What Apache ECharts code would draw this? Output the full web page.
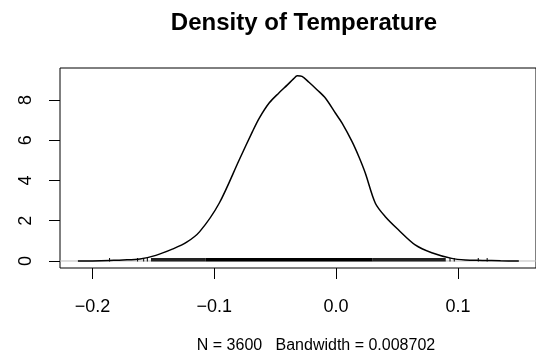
<!DOCTYPE html>
<html><head><meta charset="utf-8">
<script src="https://cdn.jsdelivr.net/npm/echarts@6/dist/echarts.min.js"></script>
<style>html,body{margin:0;padding:0;background:#fff}#c{width:536px;height:364px}</style>
</head><body><div id="c"></div>
<script>
// Density curve
const densX = [-0.212,-0.200,-0.186,-0.175,-0.161,-0.148,-0.134,-0.123,-0.112,-0.096,-0.0796,-0.0687,-0.0632,-0.055,-0.047,-0.040,-0.035,-0.0319,-0.028,-0.0223,-0.0155,-0.0087,-0.0005,0.0049,0.0131,0.0186,0.024,0.0322,0.0404,0.0513,0.0649,0.0785,0.0949,0.106,0.120,0.135,0.150];
const densY = [0.0,0.005,0.03,0.05,0.10,0.28,0.60,0.92,1.46,2.87,5.02,6.43,7.09,7.85,8.35,8.75,9.05,9.20,9.17,8.88,8.50,8.09,7.34,6.85,5.93,5.19,4.36,2.87,2.20,1.54,0.80,0.41,0.13,0.05,0.03,0.01,0.0];
// Rug: isolated observations and dense stretches
const rugSingles = [-0.186,-0.163,-0.158,-0.155,0.0935,0.097,0.1167,0.124];
const rugSparse = [[-0.152,-0.107],[0.030,0.090]];
const rugDense = [[-0.107,0.030]];
// Axes
const xTicks = [-0.2,-0.1,0.0,0.1];
const xTickLabels = ['\u22120.2','\u22120.1','0.0','0.1'];
const yTicks = [0,2,4,6,8];
const yTickLabels = ['0','2','4','6','8'];
const xMin = -0.2267, xMax = 0.1641, yMin = -0.348, yMax = 9.59;
const mainTitle = 'Density of Temperature';
const subTitle = 'N = 3600   Bandwidth = 0.008702';

const FF = 'Liberation Sans, Arial, Helvetica, sans-serif';
const chart = echarts.init(document.getElementById('c'), null, {renderer:'canvas'});

function rugRender(h, fill){
  return function(params, api){
    const a = api.coord([api.value(0), 0]);
    const b = api.coord([api.value(1), 0]);
    const w = Math.max(1, b[0]-a[0]);
    return {type:'rect', shape:{x:a[0]-(w===1?0.5:0), y:a[1]-h, width:w, height:h+0.5}, style:{fill:fill}};
  };
}

const option = {
  animation:false,
  backgroundColor:'#fff',
  title:[
    {text:mainTitle, left:299, top:6, textAlign:'center', textStyle:{fontFamily:FF, fontWeight:'bold', fontSize:24, color:'#000'}},
    {text:subTitle, left:311, top:333, textAlign:'center', textStyle:{fontFamily:FF, fontWeight:'normal', fontSize:16, color:'#000'}}
  ],
  grid:{left:60, top:68, width:478, height:200, show:true, borderColor:'#000', borderWidth:1, backgroundColor:'transparent', containLabel:false},
  xAxis:{type:'value', min:xMin, max:xMax,
    axisLine:{show:false, onZero:false}, splitLine:{show:false},
    axisTick:{show:true, customValues:xTicks, length:11, lineStyle:{color:'#000', width:1}},
    axisLabel:{customValues:xTicks, margin:30, fontSize:18, fontFamily:FF, color:'#000',
      formatter:function(v){ const i = xTicks.findIndex(t=>Math.abs(t-v)<1e-9); return i>=0?xTickLabels[i]:''; }}
  },
  yAxis:{type:'value', min:yMin, max:yMax,
    axisLine:{show:false, onZero:false}, splitLine:{show:false},
    axisTick:{show:true, customValues:yTicks, length:11, lineStyle:{color:'#000', width:1}},
    axisLabel:{customValues:yTicks, rotate:90, margin:25, fontSize:18, fontFamily:FF, color:'#000',
      formatter:function(v){ const i = yTicks.findIndex(t=>Math.abs(t-v)<1e-9); return i>=0?yTickLabels[i]:''; }}
  },
  series:[
    {type:'line', data:[[xMin,0],[xMax,0]], symbol:'none', lineStyle:{color:'#bbb', width:1}, silent:true, z:1},
    {type:'custom', renderItem:rugRender(3,'#222'), data:rugSparse, encode:{x:[0,1]}, z:2, silent:true},
    {type:'custom', renderItem:rugRender(3,'#000'), data:rugDense, encode:{x:[0,1]}, z:2, silent:true},
    {type:'custom', renderItem:rugRender(3,'#000'), data:rugSingles.map(v=>[v,v]), encode:{x:[0,1]}, z:2, silent:true},
    {type:'line', data:densX.map((x,i)=>[x,densY[i]]), symbol:'none', smooth:0.3, lineStyle:{color:'#000', width:1.5}, z:3, silent:true}
  ]
};
chart.setOption(option);
</script></body></html>
